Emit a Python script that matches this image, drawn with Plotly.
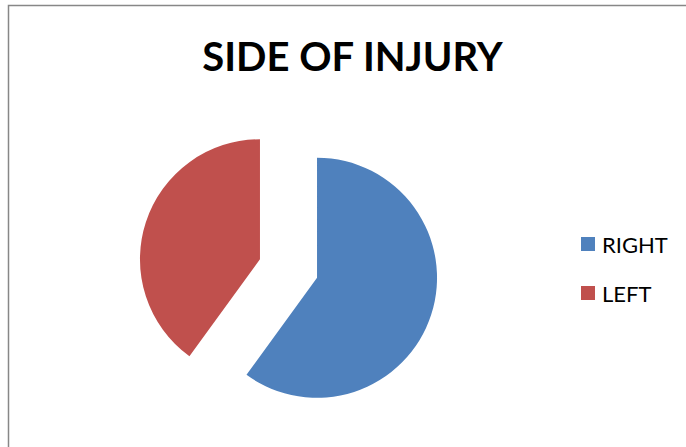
import plotly.graph_objects as go

# Data
labels = ["RIGHT", "LEFT"]
values = [60, 40]
colors = ["#4F81BD", "#C0504D"]
title_text = "SIDE OF INJURY"

W, H = 686, 447

fig = go.Figure()
fig.add_trace(go.Pie(
    labels=labels,
    values=values,
    marker=dict(colors=colors, line=dict(width=0)),
    pull=[0.25, 0.25],
    sort=False,
    direction="clockwise",
    rotation=0,
    textinfo="none",
    hoverinfo="label+value",
    showlegend=False,
    domain=dict(x=[138.5 / W, 438.5 / W], y=[28.5 / H, 328.5 / H]),
))

shapes = [
    dict(type="rect", xref="paper", yref="paper",
         x0=8.5 / W, x1=1.02, y0=-0.02, y1=1 - 5.5 / H,
         line=dict(color="#878787", width=1.5), fillcolor="rgba(0,0,0,0)", layer="below"),
]
annotations = []
leg_x = 581
leg_y0 = 244
leg_gap = 49
for i, (lab, col) in enumerate(zip(labels, colors)):
    cy = leg_y0 + i * leg_gap
    shapes.append(dict(type="rect", xref="paper", yref="paper",
                       x0=leg_x / W, x1=(leg_x + 14) / W,
                       y0=1 - (cy + 7) / H, y1=1 - (cy - 7) / H,
                       line=dict(width=0), fillcolor=col))
    annotations.append(dict(text=lab, xref="paper", yref="paper",
                            x=(leg_x + 19) / W, y=1 - cy / H,
                            xanchor="left", yanchor="middle", showarrow=False,
                            font=dict(family="Lato", size=22, color="#000000")))

fig.update_layout(
    width=W, height=H,
    margin=dict(l=0, r=0, t=0, b=0),
    paper_bgcolor="white",
    plot_bgcolor="white",
    title=dict(text=title_text, x=352.5 / W, y=1 - 57 / H,
               xanchor="center", yanchor="middle",
               font=dict(family="Lato", size=40, color="#000000", weight="bold")),
    shapes=shapes,
    annotations=annotations,
)

fig.write_html(
    "out.html",
    config={"displayModeBar": False},
    post_script="document.body.style.margin='0';document.body.style.overflow='hidden';",
)
